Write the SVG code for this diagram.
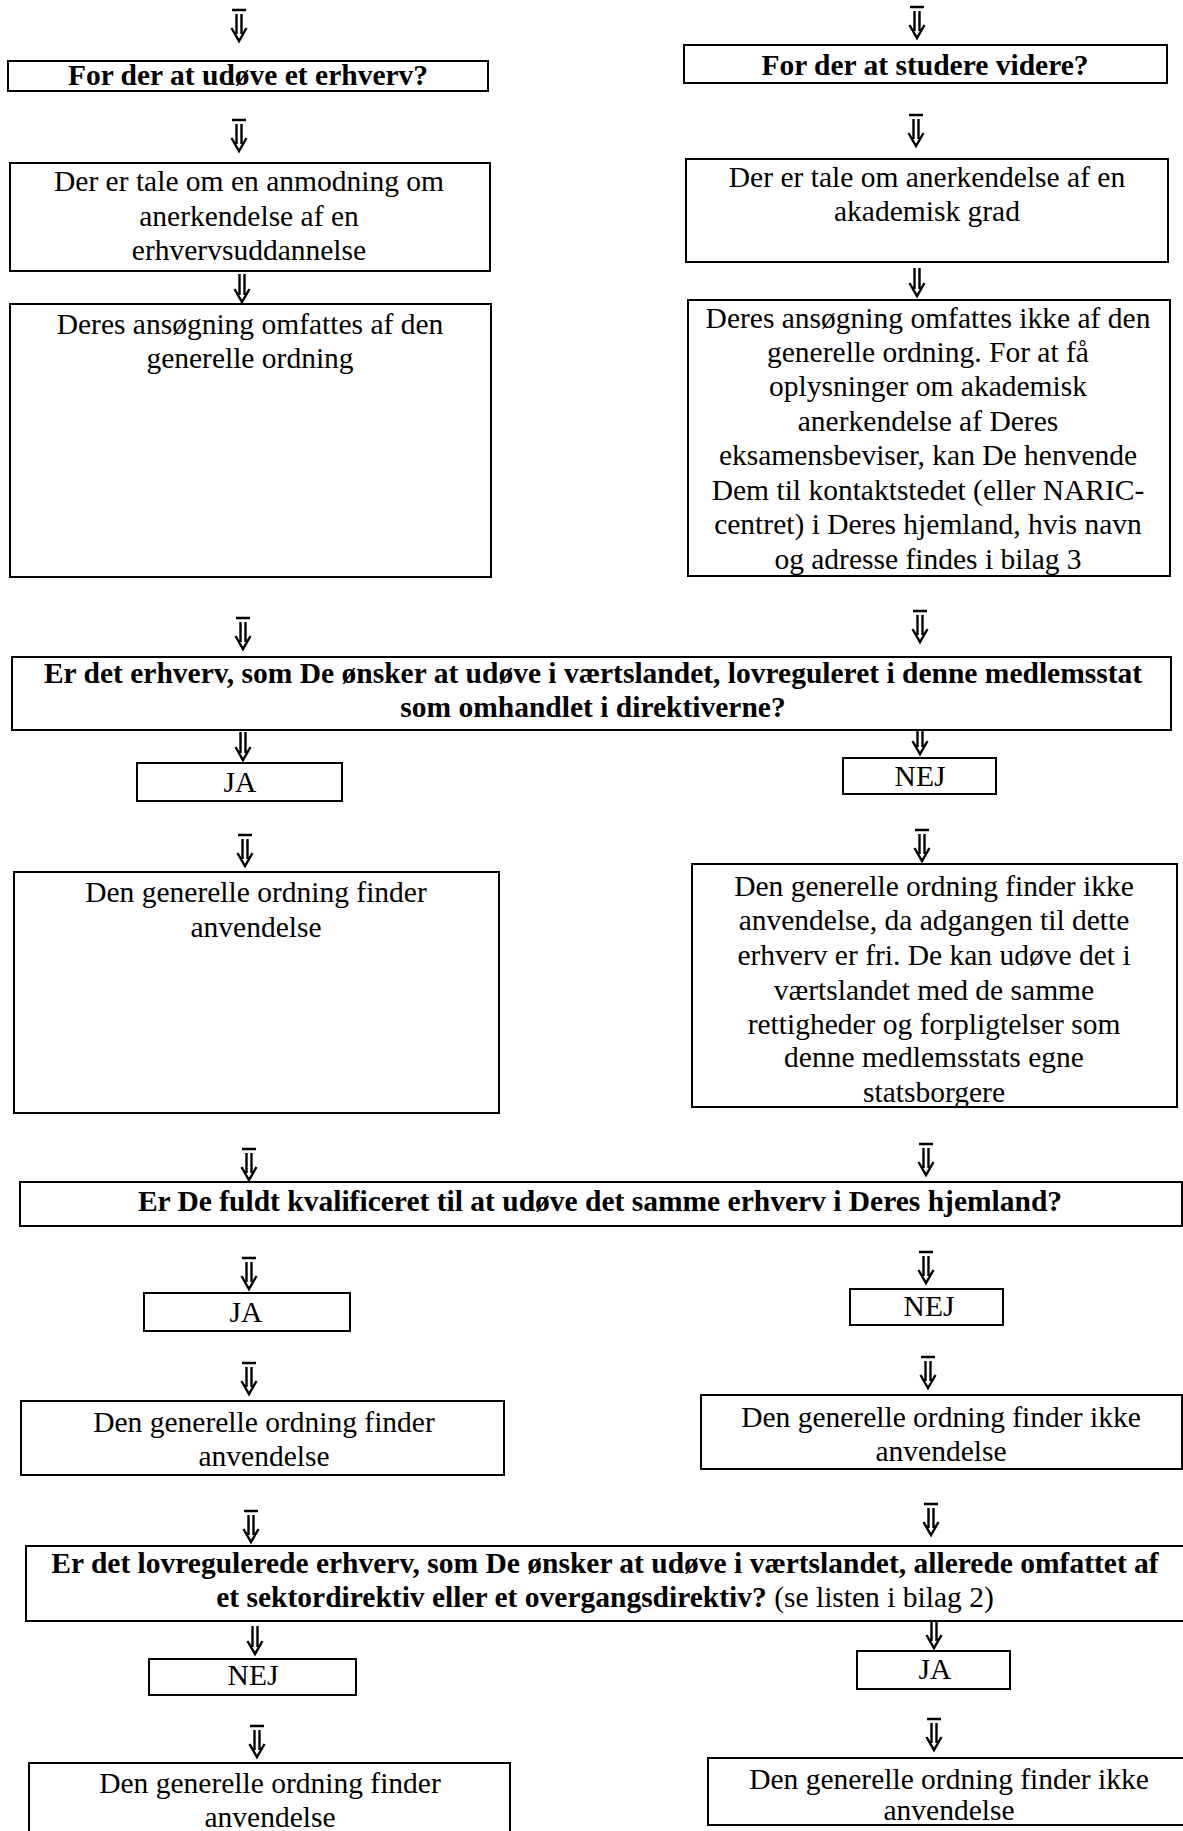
<svg xmlns="http://www.w3.org/2000/svg" width="1183" height="1831" viewBox="0 0 1183 1831">
<style>
.box{fill:#fff;stroke:#000;stroke-width:2}
.t{font-family:"Liberation Serif","Times New Roman",serif;font-size:29.5px;fill:#000;text-anchor:middle}
.b{font-weight:bold}
.ar{fill:none;stroke:#000;stroke-width:2.4}
</style>
<defs>
<g id="arrB"><path d="M-7 1H7M-2.5 5V25M2.5 5V25M-7.5 19L0 32L7.5 19"/></g>
<g id="arr"><path d="M-2.5 0V21M2.5 0V21M-7.5 15L0 28L7.5 15"/></g>
</defs>
<rect width="1183" height="1831" fill="#fff"/>
<g id="connectors" class="ar">
<use href="#arrB" x="239" y="9"/>
<use href="#arrB" x="917" y="6"/>
<use href="#arrB" x="239" y="119"/>
<use href="#arrB" x="916" y="114"/>
<use href="#arr" x="242" y="274"/>
<use href="#arr" x="917" y="268"/>
<use href="#arrB" x="243" y="617"/>
<use href="#arrB" x="920" y="610"/>
<use href="#arr" x="243" y="732"/>
<use href="#arr" x="920" y="726"/>
<use href="#arrB" x="245" y="834"/>
<use href="#arrB" x="922" y="829"/>
<use href="#arrB" x="249" y="1148"/>
<use href="#arrB" x="926" y="1143"/>
<use href="#arrB" x="249" y="1257"/>
<use href="#arrB" x="926" y="1251"/>
<use href="#arrB" x="249" y="1362"/>
<use href="#arrB" x="928" y="1356"/>
<use href="#arrB" x="251" y="1510"/>
<use href="#arrB" x="931" y="1503"/>
<use href="#arr" x="255" y="1626"/>
<use href="#arr" x="934" y="1620"/>
<use href="#arrB" x="257" y="1725"/>
<use href="#arrB" x="934" y="1718"/>
</g>
<g id="n-erhverv"><rect class="box" x="8" y="61" width="480" height="30"/><text class="t b" x="248" y="85">For der at udøve et erhverv?</text></g>
<g id="n-studere"><rect class="box" x="684" y="45" width="483" height="38"/><text class="t b" x="925" y="75">For der at studere videre?</text></g>
<g id="n-erhvervsudd"><rect class="box" x="10" y="163" width="480" height="108"/><text class="t" x="249"><tspan x="249" y="191">Der er tale om en anmodning om</tspan><tspan x="249" y="226">anerkendelse af en</tspan><tspan x="249" y="260">erhvervsuddannelse</tspan></text></g>
<g id="n-akademisk"><rect class="box" x="686" y="159" width="482" height="103"/><text class="t"><tspan x="927" y="187">Der er tale om anerkendelse af en</tspan><tspan x="927" y="221">akademisk grad</tspan></text></g>
<g id="n-omfattes"><rect class="box" x="10" y="304" width="481" height="273"/><text class="t"><tspan x="250" y="334">Deres ansøgning omfattes af den</tspan><tspan x="250" y="368">generelle ordning</tspan></text></g>
<g id="n-ikke-omfattes"><rect class="box" x="688" y="300" width="482" height="276"/><text class="t"><tspan x="928" y="328">Deres ansøgning omfattes ikke af den</tspan><tspan x="928" y="362">generelle ordning. For at få</tspan><tspan x="928" y="396">oplysninger om akademisk</tspan><tspan x="928" y="431">anerkendelse af Deres</tspan><tspan x="928" y="465">eksamensbeviser, kan De henvende</tspan><tspan x="928" y="500">Dem til kontaktstedet (eller NARIC-</tspan><tspan x="928" y="534">centret) i Deres hjemland, hvis navn</tspan><tspan x="928" y="569">og adresse findes i bilag 3</tspan></text></g>
<g id="n-lovreguleret"><rect class="box" x="12" y="657" width="1159" height="73"/><text class="t b"><tspan x="593" y="683">Er det erhverv, som De ønsker at udøve i værtslandet, lovreguleret i denne medlemsstat</tspan><tspan x="593" y="717">som omhandlet i direktiverne?</tspan></text></g>
<g id="n-ja1"><rect class="box" x="137" y="763" width="205" height="38"/><text class="t" x="240" y="792">JA</text></g>
<g id="n-nej1"><rect class="box" x="843" y="758" width="153" height="36"/><text class="t" x="920" y="786">NEJ</text></g>
<g id="n-anv1"><rect class="box" x="14" y="872" width="485" height="241"/><text class="t"><tspan x="256" y="902">Den generelle ordning finder</tspan><tspan x="256" y="937">anvendelse</tspan></text></g>
<g id="n-fri"><rect class="box" x="692" y="864" width="485" height="243"/><text class="t"><tspan x="934" y="896">Den generelle ordning finder ikke</tspan><tspan x="934" y="930">anvendelse, da adgangen til dette</tspan><tspan x="934" y="965">erhverv er fri. De kan udøve det i</tspan><tspan x="934" y="1000">værtslandet med de samme</tspan><tspan x="934" y="1034">rettigheder og forpligtelser som</tspan><tspan x="934" y="1067">denne medlemsstats egne</tspan><tspan x="934" y="1102">statsborgere</tspan></text></g>
<g id="n-kvalificeret"><rect class="box" x="20" y="1182" width="1162" height="44"/><text class="t b" x="600" y="1211">Er De fuldt kvalificeret til at udøve det samme erhverv i Deres hjemland?</text></g>
<g id="n-ja2"><rect class="box" x="144" y="1293" width="206" height="38"/><text class="t" x="246" y="1322">JA</text></g>
<g id="n-nej2"><rect class="box" x="850" y="1289" width="153" height="36"/><text class="t" x="929" y="1316">NEJ</text></g>
<g id="n-anv2"><rect class="box" x="21" y="1401" width="483" height="74"/><text class="t"><tspan x="264" y="1432">Den generelle ordning finder</tspan><tspan x="264" y="1466">anvendelse</tspan></text></g>
<g id="n-ikke-anv2"><rect class="box" x="701" y="1395" width="481" height="74"/><text class="t"><tspan x="941" y="1427">Den generelle ordning finder ikke</tspan><tspan x="941" y="1461">anvendelse</tspan></text></g>
<g id="n-sektordirektiv"><rect class="box" x="26" y="1546" width="1170" height="75"/><text class="t b"><tspan x="605" y="1573">Er det lovregulerede erhverv, som De ønsker at udøve i værtslandet, allerede omfattet af</tspan><tspan x="605" y="1607">et sektordirektiv eller et overgangsdirektiv?<tspan font-weight="normal"> (se listen i bilag 2)</tspan></tspan></text></g>
<g id="n-nej3"><rect class="box" x="149" y="1659" width="207" height="36"/><text class="t" x="253" y="1685">NEJ</text></g>
<g id="n-ja3"><rect class="box" x="857" y="1651" width="153" height="38"/><text class="t" x="935" y="1679">JA</text></g>
<g id="n-anv3"><rect class="box" x="29" y="1763" width="481" height="90"/><text class="t"><tspan x="270" y="1793">Den generelle ordning finder</tspan><tspan x="270" y="1827">anvendelse</tspan></text></g>
<g id="n-ikke-anv3"><rect class="box" x="708" y="1758" width="490" height="67"/><text class="t"><tspan x="949" y="1789">Den generelle ordning finder ikke</tspan><tspan x="949" y="1820">anvendelse</tspan></text></g>
</svg>
